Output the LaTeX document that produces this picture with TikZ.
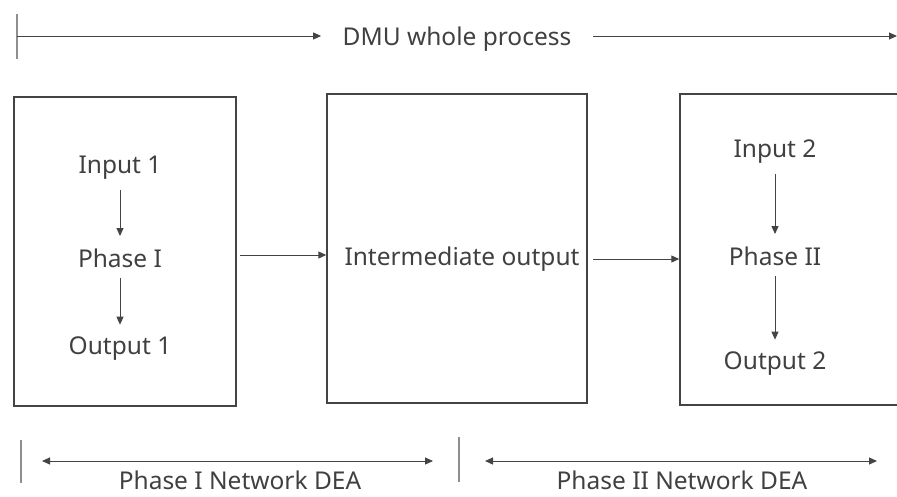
\documentclass[tikz,border=0pt]{standalone}
\usepackage{fontspec}
\setmainfont{Noto Sans}
\usetikzlibrary{arrows.meta}

\definecolor{ink}{HTML}{404040}
\definecolor{rule}{HTML}{444444}

\begin{document}
\begin{tikzpicture}[x=1pt, y=-1pt, font=\fontsize{24.5}{28}\selectfont, text=ink,
  flow/.style={draw=rule, line width=1pt, -{Triangle[length=8pt,width=7pt]}},
  both/.style={draw=rule, line width=1pt, {Triangle[length=8pt,width=7pt]}-{Triangle[length=8pt,width=7pt]}},
  step arrow/.style={flow, shorten <=7pt, shorten >=9pt},
  tick/.style={draw=rule!60, line width=1.3pt}]
\useasboundingbox (0,0) rectangle (897,496);

  \begin{scope}[every node/.style={draw=rule, line width=1.4pt, inner sep=0pt}]
\node[minimum width=222pt, minimum height=309pt](p1) at (125, 251.5) {};
\node[minimum width=260pt, minimum height=309pt](mid) at (457, 248.5) {};
\node[minimum width=226pt, minimum height=311pt](p2) at (793, 249.5) {};
\end{scope}

% stages of phase I
\node(in1) at (120, 168) {Input 1};
\node(ph1) at (120, 258) {Phase I};
\node(out1) at (120, 349) {Output 1};
\draw[step arrow] (in1) -- (ph1);
\draw[step arrow] (ph1) -- (out1);

\node(inter) at (462, 259) {Intermediate output};

% stages of phase II
\node(in2) at (775, 152) {Input 2};
\node(ph2) at (775, 256) {Phase II};
\node(out2) at (775, 364) {Output 2};
\draw[step arrow] (in2) -- (ph2);
\draw[step arrow] (ph2) -- (out2);

\coordinate(a1) at (240, 255);
\coordinate(a2) at (593, 259);
\draw[flow] (a1) -- (mid.west |- a1);
\draw[flow] (a2) -- (p2.west |- a2);

% whole process span
\node(dmu) at (457, 39) {DMU whole process};
\coordinate(t0) at (17, 36);
\coordinate(t1) at (897, 36);
\draw[tick] (17, 14) -- (17, 59);
\draw[flow] (t0) -- ([xshift=-18pt]dmu.west |- t0);
\draw[flow] ([xshift=18pt]dmu.east |- t1) -- (t1);

% network DEA spans
\coordinate(l0) at (42, 461);
\coordinate(l1) at (433, 461);
\coordinate(r0) at (485, 461);
\coordinate(r1) at (877, 461);
\draw[tick] (21, 440) -- (21, 483);
\draw[both] (l0) -- (l1);
\node[inner sep=0pt](dea1) at (240, 480) {Phase I Network DEA};
\draw[tick] (459, 437) -- (459, 482);
\draw[both] (r0) -- (r1);
\node[inner sep=0pt](dea2) at (682, 480) {Phase II Network DEA};
\end{tikzpicture}
\end{document}
